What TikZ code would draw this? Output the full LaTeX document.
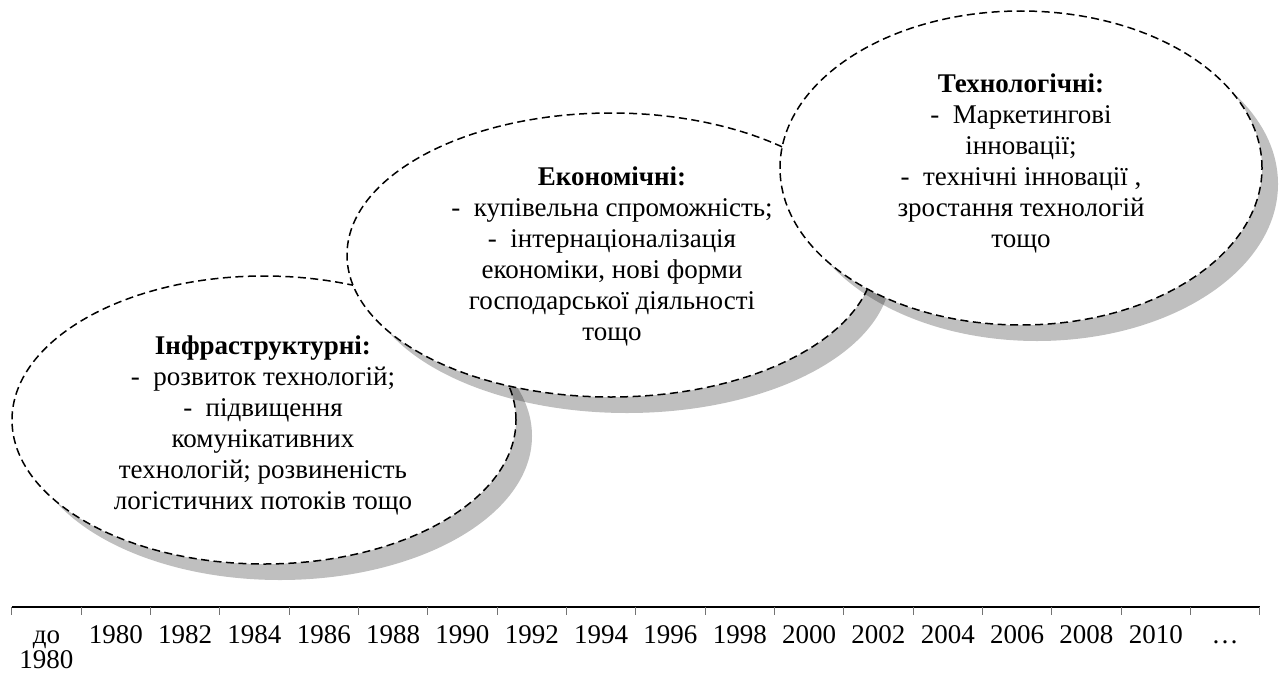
\documentclass[tikz,border=0pt]{standalone}
\usepackage{fontspec}
\setmainfont{Liberation Serif}
\usetikzlibrary{shapes.geometric,calc}
\tikzset{
  ell/.style={ellipse, draw=black, fill=white, line width=1.5pt, dash pattern=on 8pt off 4.5pt, inner sep=0pt},
  shadowfill/.style={fill=black, fill opacity=0.25},
  txt/.style={align=center, font=\fontsize{27}{31}\selectfont, inner sep=0pt},
  lab/.style={align=center, font=\fontsize{27}{25}\selectfont, anchor=base, inner sep=0pt},
  axisline/.style={line width=1.3pt, black},
  tickline/.style={line width=1pt, black!55}
}
\begin{document}
\begin{tikzpicture}[x=1pt,y=-1pt]
\useasboundingbox (0,0) rectangle (1284,677);
\coordinate (c1) at (264,420);
\coordinate (c2) at (611,255);
\coordinate (c3) at (1021,168);
% ellipse 1
\fill[shadowfill] ($(c1)+(16,16)$) ellipse [x radius=252pt, y radius=144pt];
\node[ell, minimum width=504pt, minimum height=288pt] (e1) at (c1) {};
\node[txt] (t1) at (263,425) {\textbf{Інфраструктурні:}\\-\ \ розвиток технологій;\hspace*{42pt}\\-\ \ підвищення\\комунікативних\\технологій; розвиненість\\логістичних потоків тощо};
% ellipse 2
\fill[shadowfill] ($(c2)+(16,16)$) ellipse [x radius=264pt, y radius=142pt];
\node[ell, minimum width=528pt, minimum height=284pt] (e2) at (c2) {};
\node[txt] (t2) at (612,256) {\textbf{Економічні:}\\-\ \ купівельна спроможність;\\-\ \ інтернаціоналізація\\економіки, нові форми\\господарської діяльності\\тощо};
% ellipse 3
\fill[shadowfill] ($(c3)+(16,16)$) ellipse [x radius=241pt, y radius=157pt];
\node[ell, minimum width=482pt, minimum height=314pt] (e3) at (c3) {};
\node[txt] (t3) at (1021,163) {\textbf{Технологічні:}\\-\ \ Маркетингові\\інновації;\\-\ \ технічні інновації ,\\зростання технологій\\тощо};
% axis
\foreach \k in {0,...,18} \coordinate (a\k) at ({11.8+69.33*\k},607);
\draw[axisline] (a0) -- (a18);
\foreach \k in {0,...,18} \draw[tickline] (a\k) -- ++(0,8);
\node[lab] (l0) at ({11.8+69.33*0.5},668) {до\\1980};
\foreach \lab [count=\i from 1] in {1980,1982,1984,1986,1988,1990,1992,1994,1996,1998,2000,2002,2004,2006,2008,2010,…}
  \node[lab] (l\i) at ({11.8+69.33*(\i+0.5)},643) {\lab};
\end{tikzpicture}
\end{document}
